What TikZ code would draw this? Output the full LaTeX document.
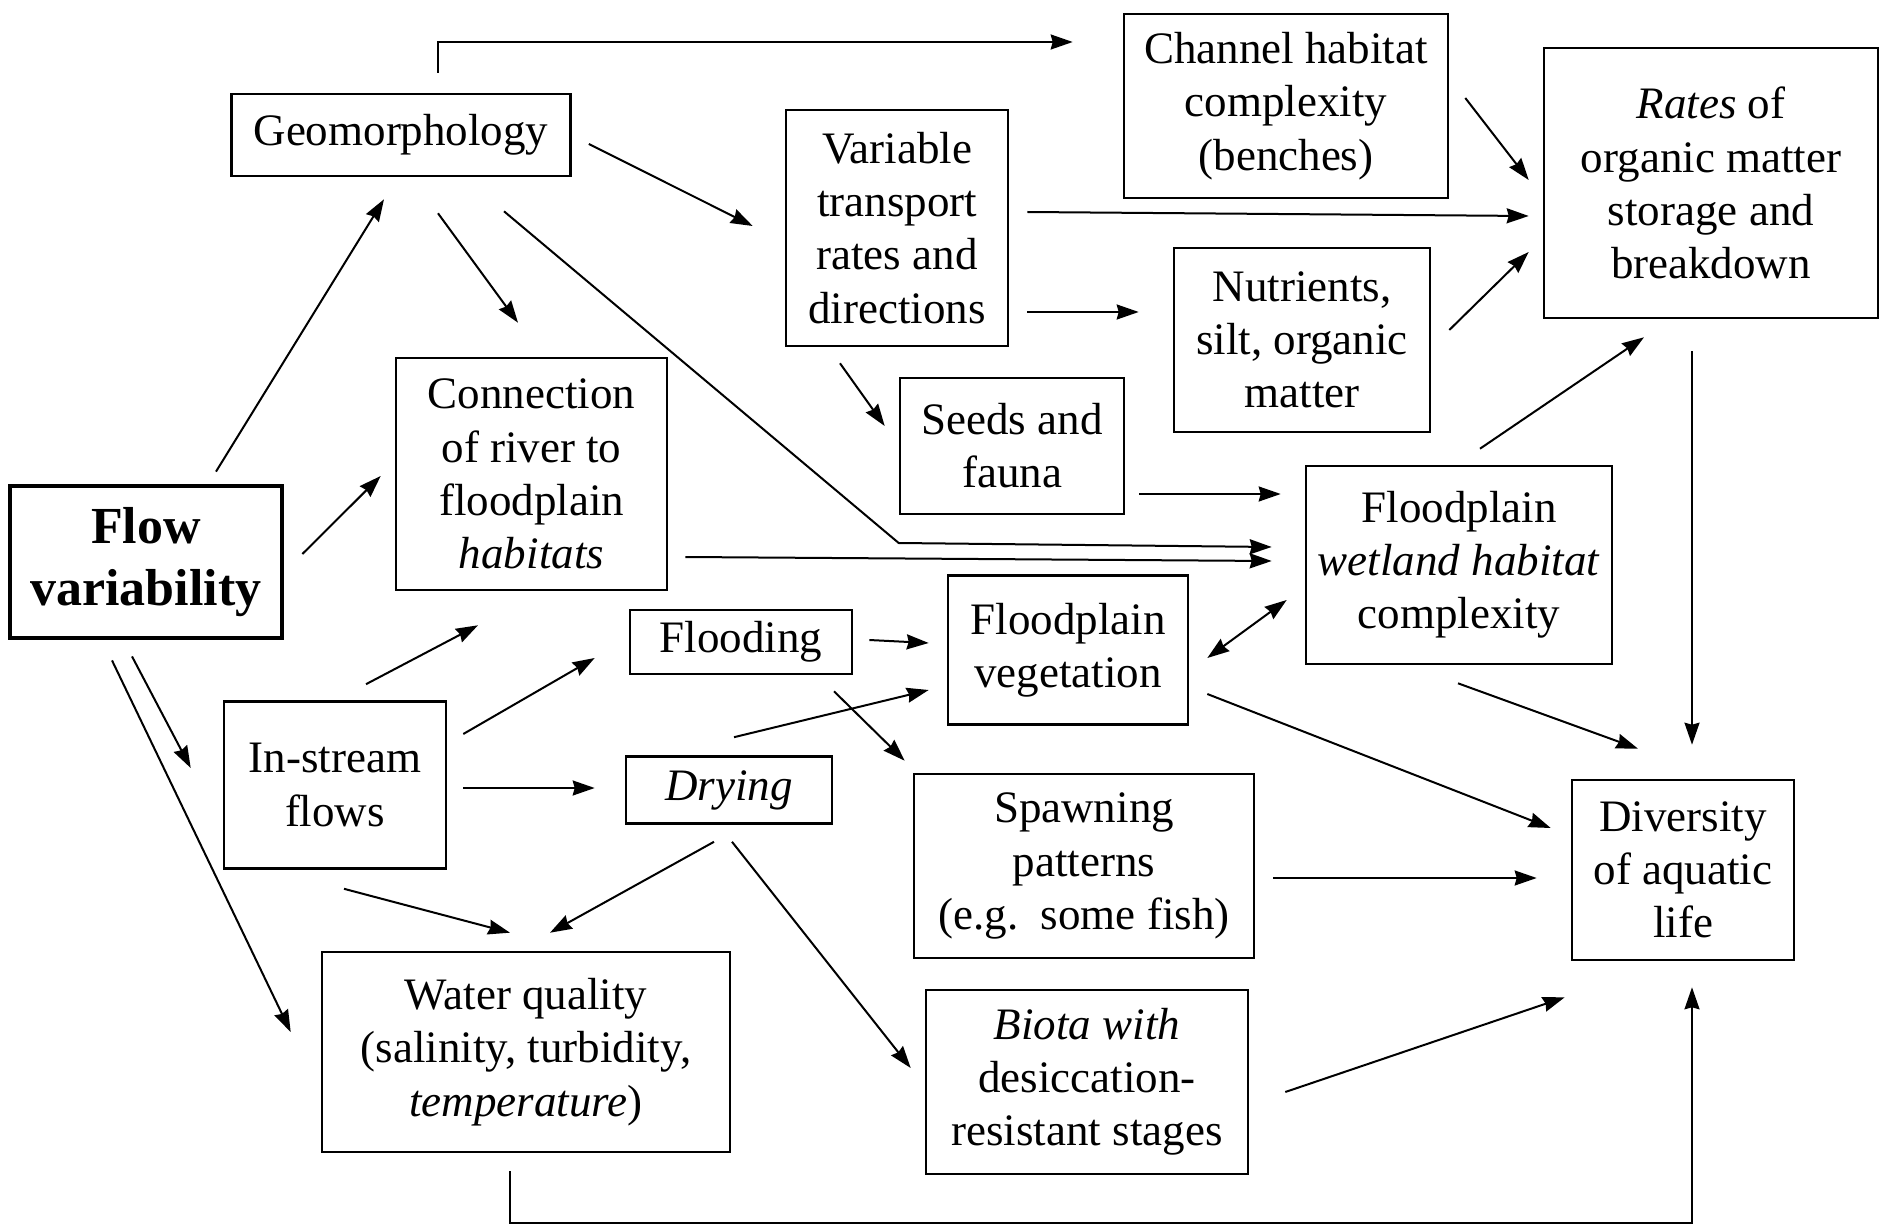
\documentclass[tikz,border=0pt]{standalone}
\usepackage{fontspec}
\setmainfont{Liberation Serif}
\usepackage{tikz}
\usetikzlibrary{arrows.meta,positioning,calc}
\newcommand*{\BoxFont}{\fontsize{22.5}{26.6}\selectfont}
\newcommand*{\FlowFont}{\bfseries\fontsize{26}{31}\selectfont}

\begin{document}
\begin{tikzpicture}[x=0.5pt,y=-0.5pt,>={Stealth[length=11pt,width=7.5pt,inset=1pt]},
  box/.style={draw,line width=1.3pt,align=center,inner sep=0pt,font=\BoxFont},
  link/.style={->,line width=1pt}]
\useasboundingbox (0,0) rectangle (1881,1225);
\node[box,line width=2.4pt,font=\FlowFont,minimum width=136pt,minimum height=76pt] (flow) at (146,562) {Flow\\variability};
\node[box,minimum width=169.5pt,minimum height=41pt] (geo) at (401,135) {Geomorphology};
\node[box,minimum width=162pt,minimum height=92pt] (chan) at (1286,106) {Channel habitat\\complexity\\(benches)};
\node[box,minimum width=111pt,minimum height=118pt] (trans) at (897,228) {Variable\\transport\\rates and\\directions};
\node[box,minimum width=167pt,minimum height=135pt] (rates) at (1711,183) {\textit{Rates} of\\organic matter\\storage and\\breakdown};
\node[box,minimum width=128pt,minimum height=92pt] (nutr) at (1302,340) {Nutrients,\\silt, organic\\matter};
\node[box,minimum width=112pt,minimum height=68pt] (seeds) at (1012,446) {Seeds and\\fauna};
\node[box,minimum width=135.5pt,minimum height=116pt] (conn) at (531.5,474) {Connection\\of river to\\floodplain\\\textit{habitats}};
\node[box,minimum width=153pt,minimum height=99pt] (wet) at (1459,565) {Floodplain\\\textit{wetland habitat}\\complexity};
\node[box,minimum width=111pt,minimum height=32pt] (flood) at (741,642) {Flooding};
\node[box,minimum width=120pt,minimum height=74.5pt] (veg) at (1068,650) {Floodplain\\vegetation};
\node[box,minimum width=111pt,minimum height=83.5pt] (instr) at (335,785) {In-stream\\flows};
\node[box,minimum width=103pt,minimum height=33.5pt] (dry) at (729,790) {\textit{Drying}};
\node[box,minimum width=170pt,minimum height=92pt] (spawn) at (1084,866) {Spawning\\patterns\\(e.g.\ \ some fish)};
\node[box,minimum width=111pt,minimum height=90pt] (div) at (1683,870) {Diversity\\of aquatic\\life};
\node[box,minimum width=204pt,minimum height=100pt] (water) at (526,1052) {Water quality\\(salinity, turbidity,\\\textit{temperature})};
\node[box,minimum width=161pt,minimum height=92pt] (biota) at (1087,1082) {\textit{Biota with}\\desiccation-\\resistant stages};

\draw[link] ($(geo.north)+(37,-20)$) |- ($(chan.west)+(-50,-64)$);
\draw[link] ($(geo.east)+(17,9)$) -- ($(trans.west)+(-32,-2)$);
\draw[link] ($(geo.south)+(37,36)$) -- ($(conn.north)+(-13.5,-34)$);
\draw[link] ($(geo.south)+(103,34)$) -- ($(wet.west)+(-406,-22)$) -- ($(wet.west)+(-33,-18)$);
\draw[link] ($(conn.east)+(17,83)$) -- ($(wet.west)+(-33,-4)$);
\draw[link] ($(trans.east)+(18,-16)$) -- ($(rates.west)+(-14,33)$);
\draw[link] ($(trans.east)+(18,84)$) -- ($(nutr.west)+(-34,-28)$);
\draw[link] ($(trans.south)+(-57,16)$) -- ($(seeds.west)+(-14,-20)$);
\draw[link] ($(chan.east)+(16,-8)$) -- ($(rates.west)+(-14,-3)$);
\draw[link] ($(nutr.east)+(18,-10)$) -- ($(rates.west)+(-14,69)$);
\draw[link] ($(seeds.east)+(14,48)$) -- ($(wet.west)+(-24,-71)$);
\draw[link] ($(wet.north)+(21,-16)$) -- ($(rates.south)+(-67,18)$);
\draw[link] ($(rates.south)+(-19,32)$) -- ($(div.north)+(9,-34)$);
\draw[link] ($(wet.south)+(-1,18)$) -- ($(div.north)+(-45,-30)$);
\draw[link,<->] ($(veg.east)+(18,8)$) -- ($(wet.west)+(-18,35)$);
\draw[link] ($(veg.east)+(18,44)$) -- ($(div.west)+(-20,-42)$);
\draw[link] ($(spawn.east)+(18,12)$) -- ($(div.west)+(-34,8)$);
\draw[link] ($(biota.east)+(36,10)$) -- ($(div.south west)+(-6,36)$);
\draw[link] ($(water.south)+(-16,18)$) -- ++(0,52) -| ($(div.south)+(9,26)$);
\draw[link] ($(flow.north)+(70,-12)$) -- ($(geo.south)+(-17,22)$);
\draw[link] ($(flow.east)+(18,-8)$) -- ($(conn.west)+(-14,2)$);
\draw[link] ($(flow.south)+(-14,16)$) -- ($(instr.west)+(-32,-17)$);
\draw[link] ($(flow.south)+(-34,20)$) -- ($(water.west)+(-30,-20)$);
\draw[link] ($(instr.north)+(31,-16)$) -- ($(conn.south)+(-53.5,34)$);
\draw[link] ($(instr.east)+(16,-51)$) -- ($(flood.west)+(-34,16)$);
\draw[link] ($(instr.east)+(16,3)$) -- ($(dry.west)+(-30,-2)$);
\draw[link] ($(instr.south)+(9,19)$) -- ($(water.north)+(-16,-18)$);
\draw[link] ($(dry.south)+(-15,17)$) -- ($(water.north)+(24,-18)$);
\draw[link] ($(dry.south)+(3,17)$) -- ($(biota.west)+(-14,-14)$);
\draw[link] ($(dry.north)+(5,-18)$) -- ($(veg.west)+(-18,40)$);
\draw[link] ($(flood.east)+(16,-2)$) -- ($(veg.west)+(-18,-7)$);
\draw[link] ($(flood.south)+(93,16)$) -- ($(spawn.north west)+(-8,-12)$);
\end{tikzpicture}
\end{document}
